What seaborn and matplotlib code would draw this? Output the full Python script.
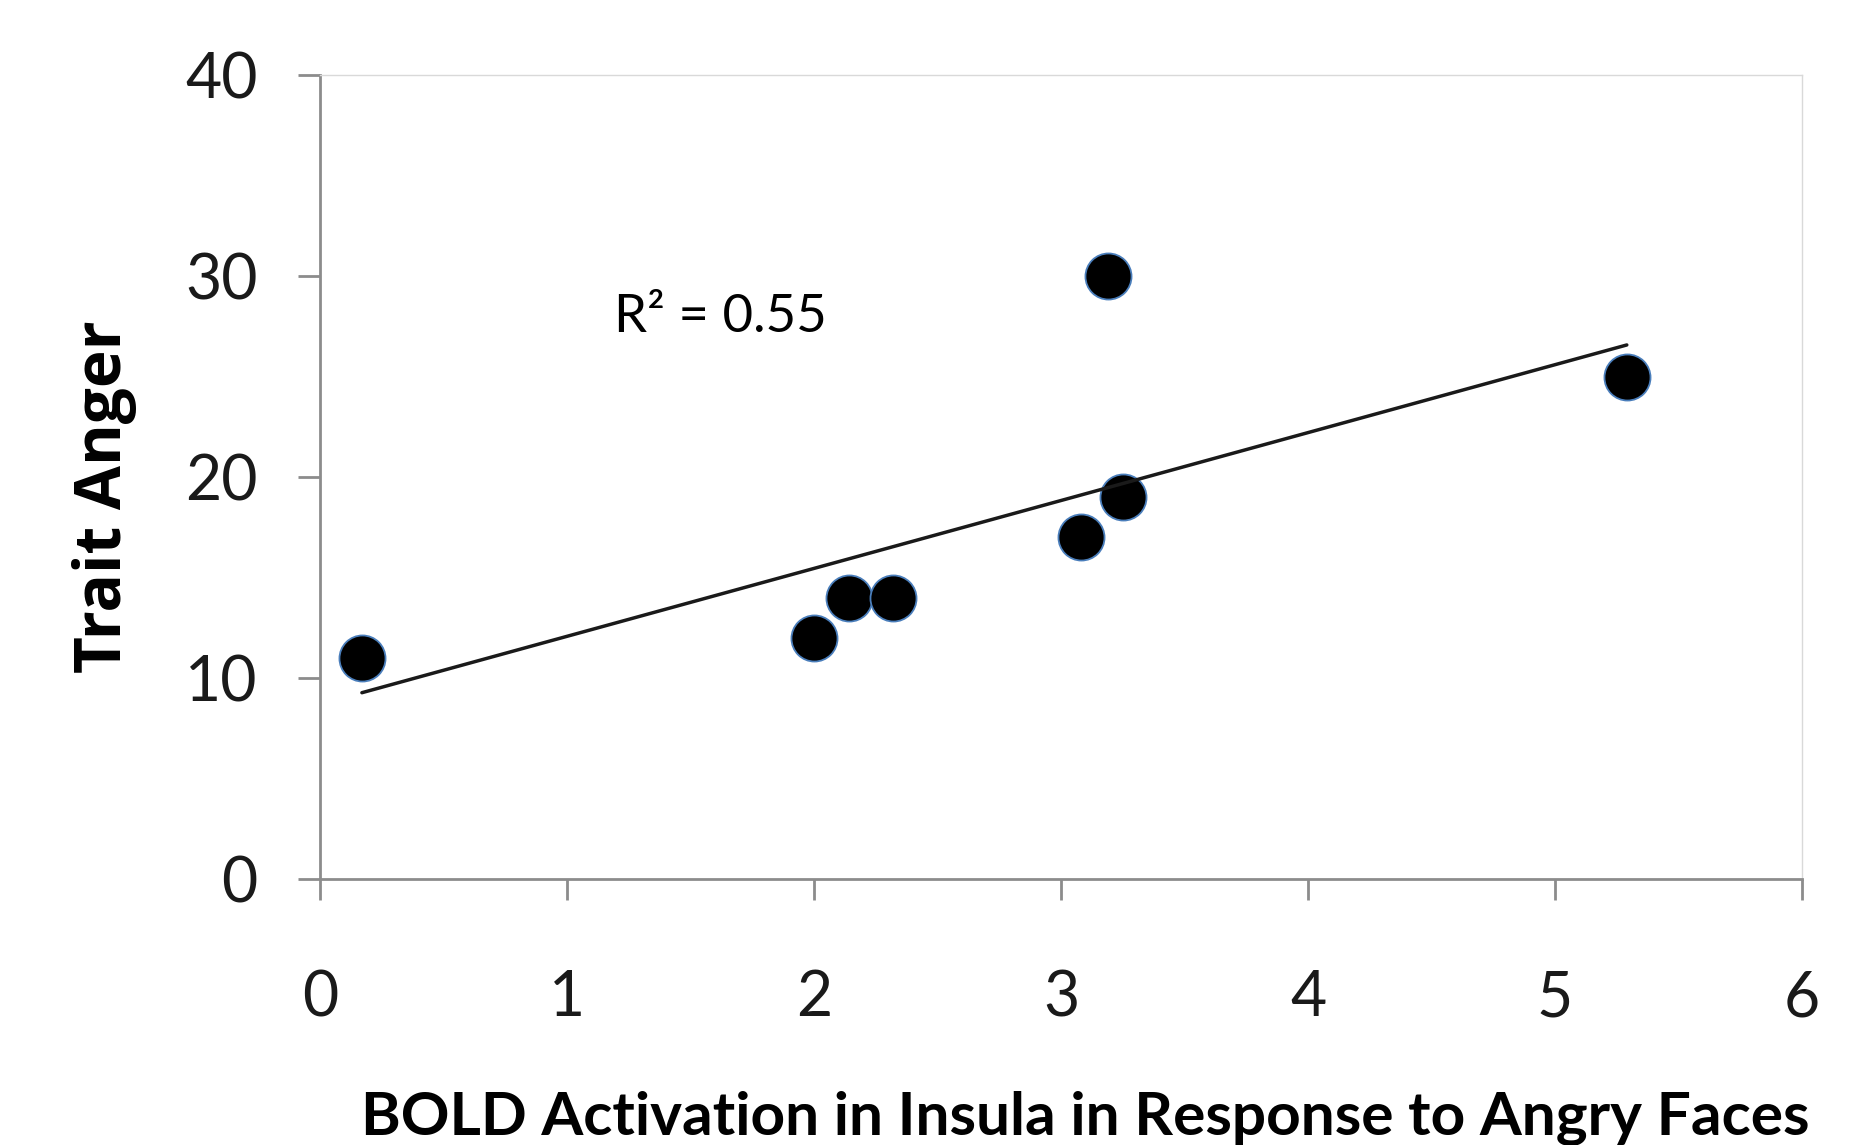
import numpy as np
import pandas as pd
import seaborn as sns
import matplotlib.pyplot as plt

# values
bold_activation = [0.17, 2.00, 2.14, 2.32, 3.08, 3.25, 3.19, 5.29]
trait_anger = [11, 12, 14, 14, 17, 19, 30, 25]
x_ticks = [0, 1, 2, 3, 4, 5, 6]
y_ticks = [0, 10, 20, 30, 40]
r2_label = "R² = 0.55"

df = pd.DataFrame({"bold": bold_activation, "anger": trait_anger})

sns.set_theme(style="white")
plt.rcParams["font.family"] = ["Lato", "DejaVu Sans"]

fig = plt.figure(figsize=(18.73, 11.45), dpi=100)
ax = fig.add_axes([0.1708, 0.2323, 0.7914, 0.7022])

sns.regplot(data=df, x="bold", y="anger", ax=ax, ci=None, truncate=True,
            scatter_kws=dict(s=1100, color="black", edgecolors="#4a7ebb",
                             linewidths=1.3, alpha=1),
            line_kws=dict(color="#1a1a1a", lw=2.5))

ax.set_xlim(0, 6)
ax.set_ylim(0, 40)
ax.set_xticks(x_ticks)
ax.set_yticks(y_ticks)

grey = "#8c8c8c"
for side in ["left", "bottom"]:
    ax.spines[side].set_color(grey)
    ax.spines[side].set_linewidth(2)
for side in ["top", "right"]:
    ax.spines[side].set_color("#d9d9d9")
    ax.spines[side].set_linewidth(1)

ax.tick_params(axis="y", direction="out", length=16, width=2, color=grey,
               labelsize=45, pad=29, labelcolor="#1a1a1a", left=True)
ax.tick_params(axis="x", direction="out", length=15, width=2, color=grey,
               labelsize=45, pad=50, labelcolor="#1a1a1a", bottom=True)

ax.set_xlabel("BOLD Activation in Insula in Response to Angry Faces",
              fontsize=43.5, fontweight="bold", color="black")
ax.xaxis.set_label_coords(0.516, -0.318)
ax.xaxis.label.set_va("baseline")

ax.set_ylabel("Trait Anger", fontsize=46, fontweight="bold", color="black",
              family=["Open Sans", "DejaVu Sans"])
ax.yaxis.set_label_coords(-0.145, 0.475)
ax.yaxis.label.set_va("center")

ax.text(1.19, 27.2, r2_label, fontsize=38, va="baseline", color="black")

fig.savefig("out.png", dpi=100)
